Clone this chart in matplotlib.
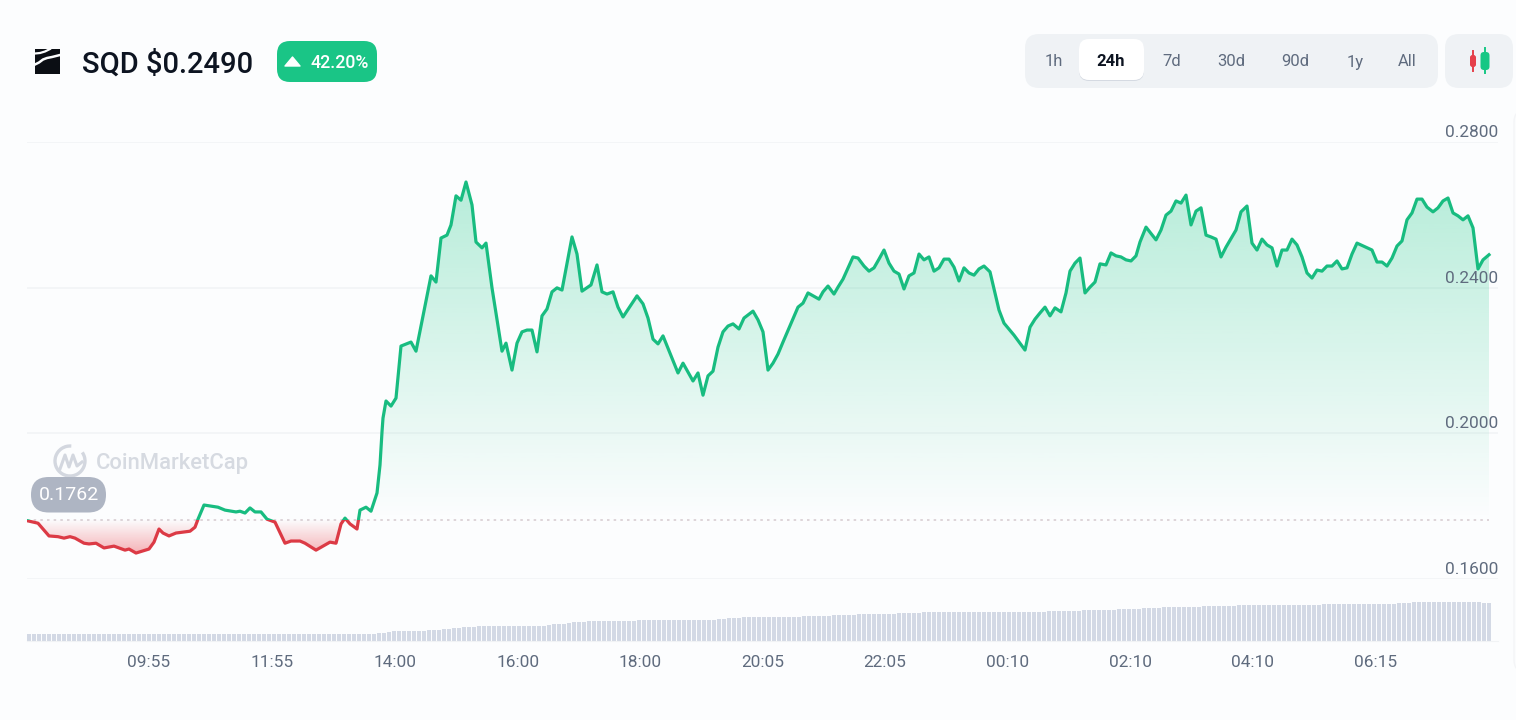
import matplotlib
matplotlib.use("Agg")
import matplotlib.pyplot as plt
import numpy as np
from matplotlib.patches import Arc, FancyBboxPatch, Polygon, Rectangle
from matplotlib.path import Path

plt.rcParams["font.family"] = ["Roboto", "DejaVu Sans"]

# price history, minutes since the start of the 24h window
elapsed = [
    0, 11, 22, 31, 37, 43, 48, 57, 62, 69, 77, 87, 98, 102, 109, 115, 122, 127, 132, 136,
    142, 149, 163, 168, 171, 177, 191, 198, 205, 209, 213, 218, 223, 228, 234, 240, 248, 258, 264, 273,
    278, 289, 303, 309, 314, 318, 323, 330, 333, 339, 344, 350, 353, 355, 356, 359, 364, 369, 374, 384,
    389, 404, 409, 414, 420, 424, 429, 434, 439, 445, 449, 455, 459, 465, 475, 479, 485, 490, 495, 500,
    505, 510, 515, 520, 525, 530, 535, 545, 550, 555, 564, 570, 575, 580, 586, 591, 596, 610, 616, 621,
    626, 631, 636, 651, 656, 666, 671, 676, 681, 686, 691, 696, 701, 706, 712, 717, 726, 731, 736, 741,
    746, 751, 756, 771, 776, 781, 792, 796, 801, 807, 811, 816, 826, 831, 837, 842, 847, 852, 857, 862,
    867, 872, 877, 882, 887, 892, 897, 902, 907, 912, 917, 922, 927, 932, 937, 942, 947, 952, 957, 963,
    972, 977, 987, 998, 1003, 1008, 1013, 1018, 1023, 1028, 1034, 1039, 1043, 1048, 1053, 1058, 1063, 1068, 1073, 1079,
    1084, 1089, 1094, 1099, 1104, 1109, 1113, 1119, 1129, 1134, 1139, 1144, 1149, 1154, 1159, 1164, 1169, 1174, 1179, 1184,
    1189, 1194, 1199, 1209, 1214, 1220, 1225, 1230, 1235, 1240, 1245, 1250, 1255, 1260, 1265, 1270, 1275, 1280, 1285, 1290,
    1295, 1300, 1305, 1310, 1315, 1320, 1325, 1330, 1345, 1350, 1355, 1360, 1365, 1370, 1375, 1380, 1385, 1390, 1395, 1400,
    1406, 1411, 1416, 1421, 1426, 1431, 1436, 1441, 1446, 1451, 1456, 1462,
]
prices = [
    .1759, .1752, .1717, .1715, .1711, .1715, .1711, .1697, .1695, .1697, .1684, .1689, .1678, .1681, .1670, .1675, .1681, .1700, .1736, .1725,
    .1717, .1725, .1730, .1741, .1763, .1802, .1796, .1788, .1785, .1783, .1785, .1780, .1794, .1783, .1783, .1763, .1755, .1697, .1703, .1703,
    .1697, .1678, .1700, .1697, .1750, .1766, .1750, .1736, .1788, .1796, .1785, .1835, .1912, .2003, .2041, .2088, .2074, .2096, .2239, .2250,
    .2225, .2432, .2415, .2536, .2544, .2572, .2652, .2640, .2690, .2627, .2525, .2509, .2522, .2399, .2225, .2247, .2173, .2247, .2278, .2283,
    .2283, .2223, .2322, .2341, .2388, .2399, .2393, .2539, .2492, .2390, .2407, .2462, .2388, .2382, .2388, .2346, .2319, .2377, .2355, .2316,
    .2258, .2245, .2267, .2165, .2192, .2143, .2165, .2104, .2157, .2170, .2236, .2278, .2294, .2300, .2286, .2316, .2335, .2311, .2278, .2173,
    .2192, .2217, .2250, .2346, .2357, .2385, .2368, .2388, .2404, .2382, .2401, .2423, .2484, .2481, .2459, .2445, .2454, .2478, .2503, .2467,
    .2445, .2437, .2396, .2432, .2440, .2492, .2476, .2484, .2445, .2454, .2478, .2478, .2456, .2418, .2454, .2440, .2434, .2451, .2459, .2443,
    .2338, .2302, .2269, .2228, .2291, .2313, .2330, .2346, .2322, .2344, .2333, .2385, .2445, .2467, .2481, .2385, .2401, .2415, .2465, .2462,
    .2495, .2487, .2484, .2476, .2473, .2487, .2525, .2566, .2531, .2558, .2599, .2610, .2638, .2632, .2654, .2572, .2610, .2619, .2544, .2539,
    .2533, .2484, .2511, .2558, .2608, .2624, .2522, .2503, .2533, .2517, .2509, .2459, .2503, .2503, .2533, .2517, .2484, .2440, .2426, .2448,
    .2445, .2459, .2459, .2473, .2451, .2454, .2492, .2522, .2503, .2470, .2470, .2459, .2481, .2514, .2528, .2586, .2605, .2643, .2643, .2621,
    .2608, .2619, .2638, .2646, .2605, .2597, .2586, .2597, .2564, .2451, .2476, .2490,
]
open_price = 0.1762

# rolling volume bars, one every five minutes
bar_minutes = list(range(0, 1465, 5))
volume = (
    [7] * 70 + [7.5, 8, 8.5, 9.5, 9.5, 9.5, 10, 10, 10, 10, 10.5, 11, 11, 12, 12, 12.5, 13, 13.5, 14, 14, 14.5]
    + [15] * 13 + [16, 16.5, 17, 17, 17.5, 18.5, 18.5, 19, 19.5] + [19.5] * 9 + [20.5] * 15
    + [21, 22, 22, 22.5, 22.5, 23] + [23.5] * 7 + [24] * 5 + [25] * 6 + [26] * 5 + [27] * 8 + [27.5] * 5
    + [28.5] * 9 + [29] * 16 + [29.5] * 7 + [30.5, 30.5, 30.5, 30.5, 31, 31, 31, 31.5, 31.5]
    + [32, 32, 32, 32.5, 32.5, 33, 33, 33.5, 33.5] + [34] * 6 + [34.5] * 7 + [35.5] * 9 + [36] * 8 + [37] * 15
    + [37.5, 38, 38] + [38.5] * 14 + [38, 38]
)

y_ticks = [0.16, 0.20, 0.24, 0.28]
y_labels = ["0.1600", "0.2000", "0.2400", "0.2800"]
time_ticks = [122, 245, 368, 491, 613, 736, 858, 981, 1103, 1226, 1349]
time_labels = ["09:55", "11:55", "14:00", "16:00", "18:00", "20:05", "22:05", "00:10", "02:10", "04:10", "06:15"]
ranges = ["1h", "24h", "7d", "30d", "90d", "1y", "All"]
range_centers = [1054, 1111, 1172, 1231, 1295, 1355, 1407]

BG = "#FCFDFE"
GREEN = "#18BC80"
RED = "#DC3A45"
GRID = "#F1F3F5"
MUTED = "#5F6B7E"
W, H = 1516, 720

fig = plt.figure(figsize=(W / 100, H / 100), dpi=100, facecolor=BG)


def px_axes(left, top, right, bottom):
    return fig.add_axes([left / W, 1 - bottom / H, (right - left) / W, (bottom - top) / H], facecolor="none")


x = np.array(elapsed, dtype=float)
y = np.array(prices)
x_span = (0, 1471)

# price panel
ax = px_axes(27, 142, 1498, 578.5)
ax.set_xlim(*x_span)
ax.set_ylim(0.16, 0.28)
ax.set_yticks(y_ticks)
ax.set_xticks([])
ax.tick_params(left=False, labelleft=False)
ax.grid(axis="y", color=GRID, lw=1.1)
ax.set_axisbelow(True)
for s in ax.spines.values():
    s.set_visible(False)


def gradient_fill(mask, color, y_from, y_to, peak):
    # vertical fade clipped to the area between the line and the opening price
    poly = ax.fill_between(x, y, open_price, where=mask, interpolate=True, facecolor="none", edgecolor="none")
    clip = Path.make_compound_path(*poly.get_paths())
    rgba = np.zeros((256, 1, 4))
    rgba[..., :3] = matplotlib.colors.to_rgb(color)
    rgba[..., 3] = np.linspace(peak, 0, 256)[:, None]
    im = ax.imshow(rgba, extent=(x_span[0], x_span[1], y_to, y_from), origin="upper", aspect="auto", zorder=1.5)
    im.set_clip_path(clip, transform=ax.transData)


gradient_fill(y >= open_price, "#16C784", y.max(), open_price, 0.30)
gradient_fill(y <= open_price, "#EA3943", y.min(), open_price, 0.38)
ax.set_xlim(*x_span)
ax.set_ylim(0.16, 0.28)

ax.plot([0, x[-1]], [open_price, open_price], color="#D8CDD2", lw=1.2, ls=(0, (1.5, 2.5)), zorder=2)

# same line drawn twice, each copy clipped to one side of the opening price
above = ax.plot(x, y, color=GREEN, lw=2.3, zorder=3)[0]
above.set_clip_path(Rectangle((0, open_price), 1471, 0.2, transform=ax.transData))
below = ax.plot(x, y, color=RED, lw=2.3, zorder=3)[0]
below.set_clip_path(Rectangle((0, 0.1), 1471, open_price - 0.1, transform=ax.transData))

for tick, label in zip(y_ticks, y_labels):
    ax.annotate(label, (1, tick), xycoords=("axes fraction", "data"), xytext=(0, 1.4), textcoords="offset points",
                ha="right", va="bottom", fontsize=12.4, color=MUTED, zorder=5, annotation_clip=False)

# volume panel
vol = px_axes(27, 599, 1498, 640.5)
vol.set_xlim(*x_span)
vol.set_ylim(0, 41.5)
vol.bar(bar_minutes, volume, width=3.6, align="edge", color="#D3D9E5")
vol.set_yticks([])
vol.set_xticks(time_ticks)
vol.set_xticklabels(time_labels, fontsize=12.4, color=MUTED)
vol.tick_params(axis="x", length=0, pad=10.5)
for name, s in vol.spines.items():
    s.set_visible(name == "bottom")
vol.spines["bottom"].set_color(GRID)

# header controls and watermark, laid out in figure pixels
ui = fig.add_axes([0, 0, 1, 1], facecolor="none")
ui.set_xlim(0, W)
ui.set_ylim(H, 0)
ui.axis("off")


def pill(x0, y0, x1, y1, r, color, **kw):
    ui.add_patch(FancyBboxPatch((x0 + r, y0 + r), x1 - x0 - 2 * r, y1 - y0 - 2 * r,
                                boxstyle=f"round,pad={r},rounding_size={r}", fc=color, ec="none", **kw))


# right hand card edge
ui.add_patch(FancyBboxPatch((1526, 122), 60, 538, boxstyle="round,pad=12,rounding_size=12",
                            fc="#FBFCFD", ec="#F4F5F7", lw=1.0))

# token logo: black block cut by two white ribbons
ui.add_patch(Rectangle((35, 49), 25, 25, fc="#0B0E14", ec="none"))
ui.plot([35, 40, 45, 50], [53.5, 53, 51.5, 49], color=BG, lw=1.6)
ui.plot([35, 39, 43, 47, 52, 60], [64.5, 62.5, 59.5, 58, 57, 55], color=BG, lw=1.8)
ui.text(82, 64, "SQD $0.2490", fontsize=21, color="#0D1421", va="center", ha="left", weight="medium")

# change badge
pill(277, 41, 377, 82, 13, "#1AC586")
ui.add_patch(Polygon([[285, 66], [292.5, 57], [300, 66]], closed=True, fc="white", ec="white", lw=1, joinstyle="round"))
ui.text(340, 63, "42.20%", fontsize=12.8, color="white", weight="medium", va="center", ha="center")

# time range selector
pill(1025, 34, 1438, 88, 14, "#EFF2F5")
pill(1079, 40, 1144, 81, 10, "#D5DAE2")
pill(1079, 39, 1144, 80, 10, "white")
for label, cx in zip(ranges, range_centers):
    active = label == "24h"
    ui.text(cx, 62, label, fontsize=12, ha="center", va="center", color="#0D1421" if active else MUTED,
            weight="bold" if active else "normal")

# candlestick toggle
pill(1445, 34, 1513, 88, 14, "#EFF2F5")
ui.plot([1473, 1473], [51, 71], color="#E5404A", lw=1.4)
pill(1470, 55, 1476, 67, 2.5, "#E5404A")
ui.plot([1485, 1485], [48, 73], color="#16C784", lw=1.4)
pill(1480.5, 52, 1489.5, 70, 3.5, "#16C784")

# watermark
ui.add_patch(Arc((70, 461), 30, 30, theta1=-35, theta2=275, ec="#D3D7DF", lw=2.4))
ui.plot([60, 65, 69, 73, 77, 82], [469, 455, 467, 455, 466, 462], color="#D3D7DF", lw=2.2)
ui.text(96, 463, "CoinMarketCap", fontsize=15.8, color="#D6DAE1", weight="medium", va="center", ha="left")

# opening price tag
pill(31, 477, 106, 512.5, 17.7, "#AEB5C3")
ui.text(68.5, 495, "0.1762", fontsize=14, color="white", va="center", ha="center")

fig.savefig("out.png", dpi=100, facecolor=BG)
